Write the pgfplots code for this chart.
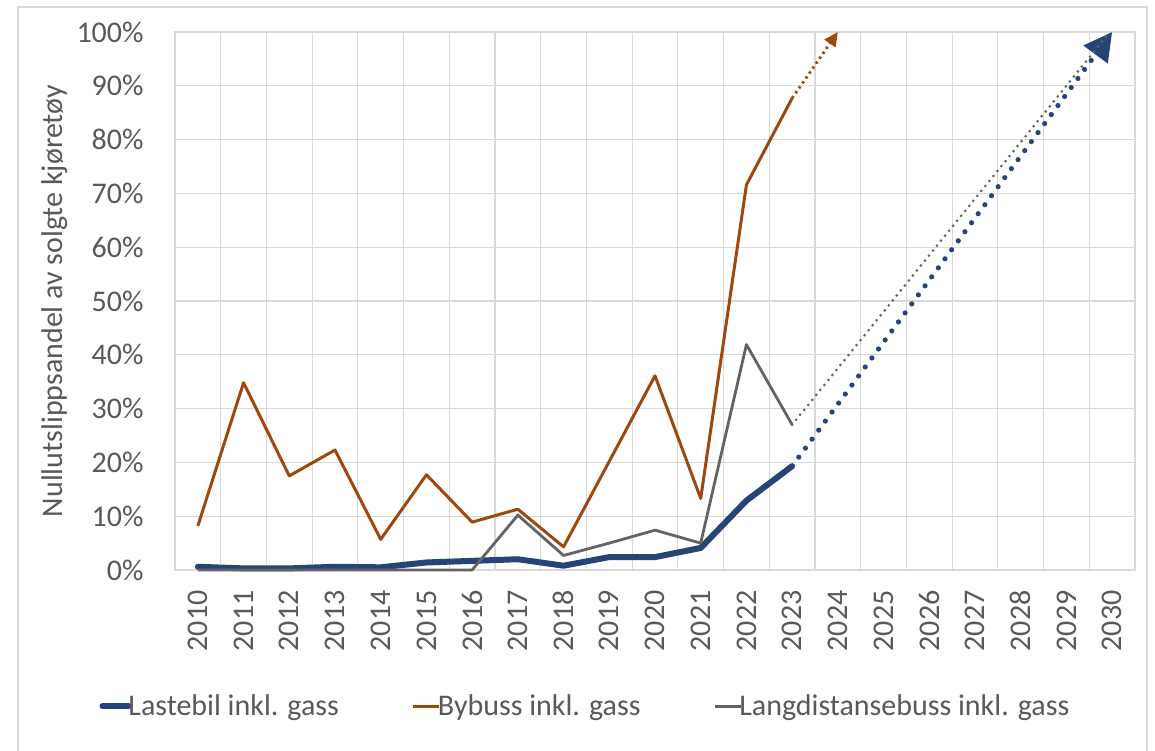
\documentclass[border=0pt]{standalone}
\usepackage{fontspec}
\setmainfont{Carlito}
\usepackage{pgfplots}
\pgfplotsset{compat=1.18}
\usetikzlibrary{arrows.meta}
\definecolor{cblue}{HTML}{264478}
\definecolor{corange}{HTML}{9E480E}
\definecolor{cgray}{HTML}{636363}
\definecolor{tgray}{HTML}{595959}
\definecolor{gridc}{HTML}{D9D9D9}
\begin{document}
\begin{tikzpicture}
\path[use as bounding box] (-87.5pt,-90pt) rectangle (490pt,285pt);
\draw[gridc, line width=0.6pt] (-78.5pt,-92pt) -- (-78.5pt,281.5pt) -- (486pt,281.5pt) -- (486pt,-92pt);
\begin{axis}[
  at={(0pt,0pt)}, anchor=south west,
  scale only axis, width=480pt, height=269pt,
  xmin=2009.5, xmax=2030.5, ymin=0, ymax=100,
  clip=false,
  xtick={2010,2011,...,2030},
  xticklabels={2010,2011,2012,2013,2014,2015,2016,2017,2018,2019,2020,2021,2022,2023,2024,2025,2026,2027,2028,2029,2030},
  minor xtick={2009.5,2010.5,...,2030.5},
  xminorgrids=true, xmajorgrids=false,
  ytick={0,10,...,100},
  yticklabels={0\%,10\%,20\%,30\%,40\%,50\%,60\%,70\%,80\%,90\%,100\%},
  ymajorgrids=true,
  grid style={draw=gridc, line width=0.6pt},
  minor grid style={draw=gridc, line width=0.6pt},
  major tick length=0pt, minor tick length=0pt,
  axis line style={draw=gridc, line width=0.6pt},
  tick label style={font=\fontsize{15}{18}\selectfont, text=tgray, inner sep=0pt},
  xticklabel style={rotate=90, anchor=east},
  xticklabel shift=10pt,
  yticklabel style={anchor=east},
  yticklabel shift=15.5pt,
  ylabel={Nullutslippsandel av solgte kjøretøy},
  ylabel style={at={(axis description cs:-0.125,0.5)}, anchor=center, font=\fontsize{15}{18}\selectfont, text=tgray},
  legend columns=3,
  legend style={at={(rel axis cs:0.427,-0.253)}, anchor=center, draw=none, fill=none,
    font=\fontsize{15}{18}\selectfont, text=tgray,
    nodes={inner sep=0.5pt},
    /tikz/every odd column/.append style={column sep=-2pt},
    /tikz/every even column/.append style={column sep=36pt}},
  legend image code/.code={\draw[#1] (0pt,0pt) -- (13pt,0pt);},
]
\addplot[cblue, line width=3pt, line cap=round, line join=round] coordinates {
(2010,0.6) (2011,0.3) (2012,0.3) (2013,0.6) (2014,0.5) (2015,1.4) (2016,1.7) (2017,2.0) (2018,0.8) (2019,2.4) (2020,2.4) (2021,4.1) (2022,12.9) (2023,19.3)};
\addlegendentry{Lastebil inkl. gass}
\addplot[corange, line width=1.5pt, line join=round] coordinates {
(2010,8.2) (2011,34.8) (2012,17.5) (2013,22.3) (2014,5.7) (2015,17.7) (2016,8.9) (2017,11.3) (2018,4.3) (2019,20.2) (2020,36.1) (2021,13.3) (2022,71.6) (2023,87.7)};
\addlegendentry{Bybuss inkl. gass}
\addplot[cgray, line width=1.4pt, line join=round] coordinates {
(2010,0) (2011,0) (2012,0) (2013,0) (2014,0) (2015,0) (2016,0) (2017,10.2) (2018,2.7) (2019,5.0) (2020,7.4) (2021,5.0) (2022,41.9) (2023,27.0)};
\addlegendentry{Langdistansebuss inkl. gass}
\addplot[forget plot, cblue, line width=2.6pt, line cap=round, dash pattern=on 0pt off 5.6pt, -{Triangle[length=14pt,width=14.5pt]}] coordinates {(2023,19.3) (2030,100)};
\addplot[forget plot, corange, line width=1.4pt, dash pattern=on 1.2pt off 1.8pt, -{Triangle[length=7pt,width=6.5pt]}] coordinates {(2023,87.7) (2024,100)};
\addplot[forget plot, cgray, line width=1.5pt, line cap=round, dash pattern=on 0pt off 3.2pt] coordinates {(2023,27.0) (2029.95,100)};
\end{axis}
\end{tikzpicture}
\end{document}
